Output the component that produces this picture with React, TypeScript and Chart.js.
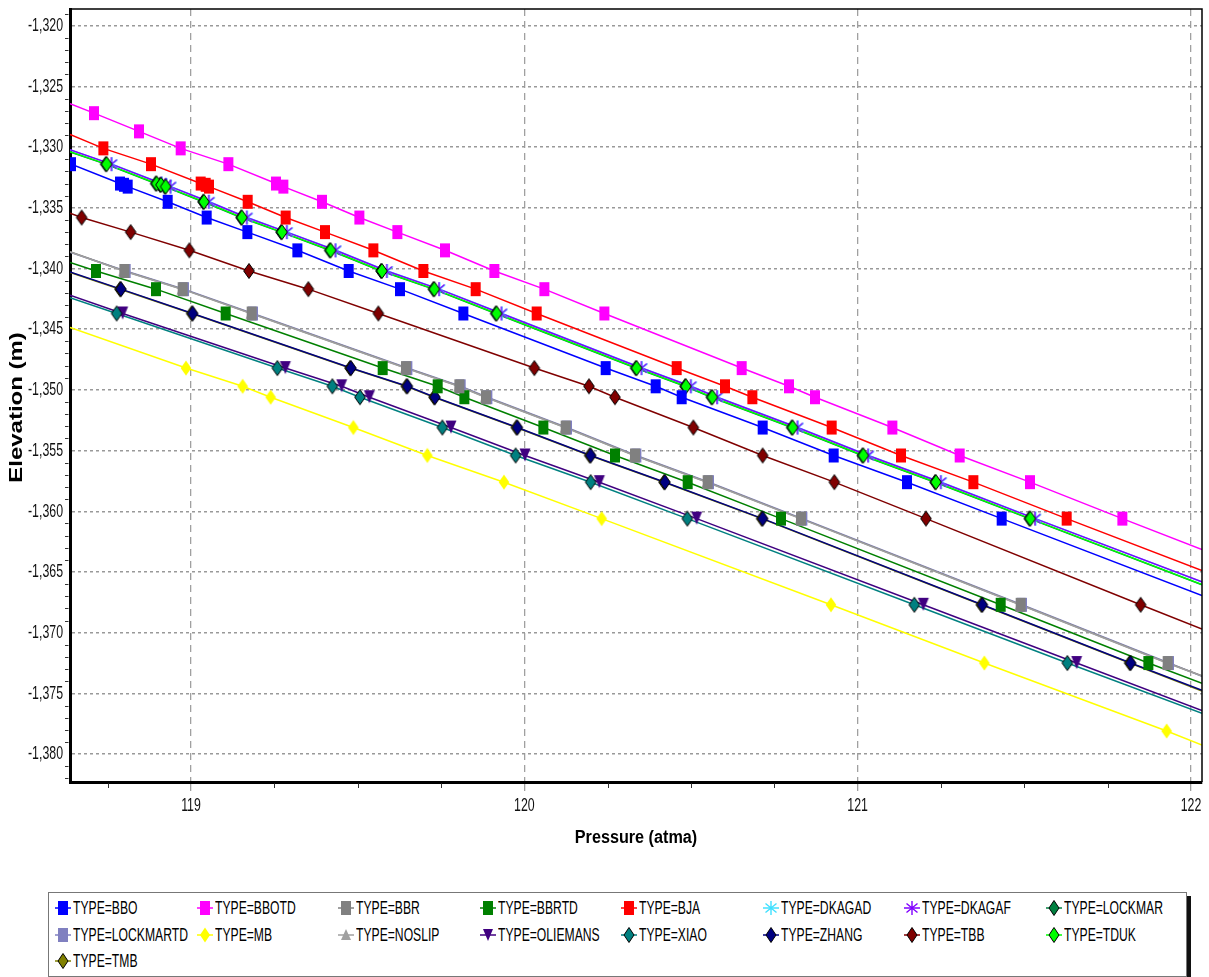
import React, { useEffect, useRef } from "react";
import { Chart, registerables } from "chart.js";
Chart.register(...registerables);

const _ = null;

// Elevation (m) of the measurement depths shared by all series
const DEPTHS = [-1327.2, -1328.7, -1330.1, -1331.4, -1333.0, -1333.1, -1333.25, -1334.5, -1335.8, -1337.0, -1338.5, -1340.2, -1341.7, -1343.7, -1348.2, -1349.7, -1350.6, -1353.1, -1355.4, -1357.6, -1360.6, -1367.7, -1372.5, -1378.1];

const SERIES = ["BBO", "BBOTD", "BBR", "BBRTD", "BJA", "DKAGAD", "DKAGAF", "LOCKMAR", "LOCKMARTD", "MB", "NOSLIP", "OLIEMANS", "XIAO", "ZHANG", "TBB", "TDUK", "TMB"];

// Pressure (atma) at each depth, per series (null = no marker)
const P_BBO = [_, _, _, 118.640, 118.787, 118.799, 118.810, 118.930, 119.047, 119.169, 119.319, 119.473, 119.627, 119.817, 120.244, 120.394, 120.472, 120.715, 120.928, 121.148, 121.432, _, _, _];
const P_BBOTD = [118.709, 118.844, 118.969, 119.112, 119.255, _, 119.277, 119.393, 119.505, 119.619, 119.762, 119.910, 120.060, 120.240, 120.652, 120.794, 120.872, 121.104, 121.306, 121.517, 121.794, _, _, _];
const P_BBR = [_, _, _, _, _, _, _, _, _, _, _, 118.800, 118.975, 119.182, 119.645, 119.805, 119.885, 120.124, 120.332, 120.550, 120.830, 121.489, 121.930, _];
const P_BBRTD = [_, _, _, _, _, _, _, _, _, _, _, 118.715, 118.895, 119.104, 119.575, 119.740, 119.820, 120.057, 120.272, 120.490, 120.770, 121.429, 121.872, _];
const P_BJA = [_, _, 118.737, 118.880, 119.029, 119.044, 119.054, 119.170, 119.284, 119.402, 119.547, 119.697, 119.854, 120.037, 120.457, 120.602, 120.684, 120.922, 121.130, 121.347, 121.627, _, _, _];
const P_DKAGAD = [_, _, _, 118.763, 118.913, 118.926, 118.940, 119.055, 119.169, 119.289, 119.435, 119.589, 119.746, 119.933, 120.353, 120.501, 120.580, 120.821, 121.033, 121.251, 121.534, _, _, _];
const P_DKAGAF = [_, _, _, 118.761, 118.911, 118.924, 118.938, 119.053, 119.167, 119.287, 119.433, 119.587, 119.744, 119.931, 120.351, 120.499, 120.578, 120.819, 121.031, 121.249, 121.532, _, _, _];
const P_LOCKMAR = [_, _, _, 118.744, 118.894, 118.907, 118.921, 119.036, 119.150, 119.270, 119.416, 119.570, 119.727, 119.914, 120.334, 120.482, 120.561, 120.802, 121.014, 121.232, 121.515, _, _, _];
const P_LOCKMARTD = [_, _, _, _, _, _, _, _, _, _, _, 118.804, 118.979, 119.186, 119.649, 119.809, 119.889, 120.128, 120.336, 120.554, 120.834, 121.493, 121.934, _];
const P_MB = [_, _, _, _, _, _, _, _, _, _, _, _, _, _, 118.985, 119.155, 119.239, 119.487, 119.709, 119.939, 120.232, 120.920, 121.380, 121.927];
const P_NOSLIP = [_, _, _, _, _, _, _, _, _, _, _, 118.798, 118.973, 119.180, 119.643, 119.803, 119.883, 120.122, 120.330, 120.548, 120.828, 121.487, 121.928, _];
const P_OLIEMANS = [_, _, _, _, _, _, _, _, _, _, _, _, _, 118.795, 119.283, 119.452, 119.535, 119.780, 120.002, 120.225, 120.517, 121.197, 121.657, _];
const P_XIAO = [_, _, _, _, _, _, _, _, _, _, _, _, _, 118.777, 119.259, 119.424, 119.507, 119.754, 119.974, 120.199, 120.489, 121.170, 121.629, _];
const P_ZHANG = [_, _, _, _, _, _, _, _, _, _, _, _, 118.790, 119.005, 119.480, 119.649, 119.732, 119.979, 120.199, 120.422, 120.715, 121.374, 121.819, _];
const P_TBB = [_, _, _, _, _, _, _, _, 118.672, 118.819, 118.995, 119.174, 119.352, 119.562, 120.030, 120.194, 120.272, 120.507, 120.715, 120.930, 121.205, 121.849, _, _];
const P_TDUK = [_, _, _, 118.747, 118.897, 118.910, 118.924, 119.039, 119.153, 119.273, 119.419, 119.573, 119.730, 119.917, 120.337, 120.485, 120.564, 120.805, 121.017, 121.235, 121.518, _, _, _];
const P_TMB = [_, _, _, _, _, _, _, _, _, _, _, _, 118.787, 119.002, 119.477, 119.646, 119.729, 119.976, 120.196, 120.419, 120.712, 121.371, 121.816, _];

const PRESSURES = [P_BBO, P_BBOTD, P_BBR, P_BBRTD, P_BJA, P_DKAGAD, P_DKAGAF, P_LOCKMAR, P_LOCKMARTD, P_MB, P_NOSLIP, P_OLIEMANS, P_XIAO, P_ZHANG, P_TBB, P_TDUK, P_TMB];

// Traverse curve elevation at the left (X_MIN) and right (X_MAX) edges of the plot
const CURVE_LEFT = [-1331.45, -1326.42, -1338.62, -1339.5, -1328.95, -1330.23, -1330.22, -1330.4, -1338.66, -1344.85, -1338.64, -1342.2, -1342.4, -1340.28, -1335.45, -1330.38, -1340.32];
const CURVE_RIGHT = [-1366.95, -1363.15, -1373.55, -1374.17, -1364.88, -1365.82, -1365.8, -1366.05, -1373.6, -1379.25, -1373.58, -1376.42, -1376.65, -1374.75, -1369.7, -1366.04, -1374.8];

const X_MIN = 118.637;
const X_MAX = 122.033;
const Y_MIN = -1382.3;
const Y_MAX = -1318.62;
const X_TICKS = [119, 120, 121, 122];
const Y_TICKS = [-1320, -1325, -1330, -1335, -1340, -1345, -1350, -1355, -1360, -1365, -1370, -1375, -1380];

const COLORS = ["#0000ff", "#ff00ff", "#808080", "#008000", "#ff0000", "#40e0ff", "#8000ff", "#008040", "#8080c0", "#ffff00", "#a0a0a0", "#400080", "#008080", "#000080", "#800000", "#00ff00", "#808000"];
const SHAPES = ["rect", "rect", "rect", "rect", "rect", "star", "star", "diamond", "rect", "diamondPlain", "triUp", "triDown", "diamond", "diamond", "diamond", "diamond", "diamond"];
const MARKER_Z = [1, 1, 1, 1, 1, 3, 2, 4, 2, 1, 3, 2, 1, 1, 1, 1, 2];
const LINE_Z = [1, 1, 3, 1, 1, 4, 1, 3, 4, 1, 2, 1, 2, 1, 1, 2, 2];

const FONT = "'Liberation Sans', Arial, sans-serif";

function makeMarker(shape: string, fill: string): HTMLCanvasElement {
  const c = document.createElement("canvas");
  const W = 16, H = 20;
  c.width = W;
  c.height = H;
  const g = c.getContext("2d") as CanvasRenderingContext2D;
  const cx = W / 2, cy = H / 2;
  g.fillStyle = fill;
  g.strokeStyle = "#000";
  g.lineWidth = 1;
  if (shape === "rect") {
    g.fillRect(cx - 5, cy - 7, 10, 14);
  } else if (shape === "diamond" || shape === "diamondPlain") {
    g.beginPath();
    g.moveTo(cx, cy - 7.5);
    g.lineTo(cx + 5.3, cy);
    g.lineTo(cx, cy + 7.5);
    g.lineTo(cx - 5.3, cy);
    g.closePath();
    g.fill();
    if (shape === "diamond") g.stroke();
  } else if (shape === "triUp") {
    g.beginPath();
    g.moveTo(cx, cy - 6.5);
    g.lineTo(cx + 5.5, cy + 5.5);
    g.lineTo(cx - 5.5, cy + 5.5);
    g.closePath();
    g.fill();
  } else if (shape === "triDown") {
    g.beginPath();
    g.moveTo(cx - 5.5, cy - 7);
    g.lineTo(cx + 5.5, cy - 7);
    g.lineTo(cx, cy + 6);
    g.closePath();
    g.fill();
  } else if (shape === "star") {
    g.strokeStyle = fill;
    g.lineWidth = 1.4;
    g.beginPath();
    g.moveTo(cx, cy - 7);
    g.lineTo(cx, cy + 7);
    g.moveTo(cx - 5.5, cy - 4.5);
    g.lineTo(cx + 5.5, cy + 4.5);
    g.moveTo(cx - 5.5, cy + 4.5);
    g.lineTo(cx + 5.5, cy - 4.5);
    g.stroke();
  }
  return c;
}

const decorPlugin = {
  id: "decor",
  afterDraw(chart: any) {
    const { ctx, chartArea: a, scales } = chart;
    const xs = scales.x, ys = scales.y;
    ctx.save();
    ctx.strokeStyle = "#000";
    ctx.lineWidth = 1.5;
    ctx.beginPath();
    ctx.moveTo(a.left, a.top);
    ctx.lineTo(a.right, a.top);
    ctx.lineTo(a.right, a.bottom);
    ctx.stroke();
    ctx.lineWidth = 1;
    ctx.strokeStyle = "#333";
    ctx.beginPath();
    for (let v = Math.ceil(Y_MIN); v <= Math.floor(Y_MAX); v++) {
      if (v % 5 === 0) continue;
      const y = Math.round(ys.getPixelForValue(v)) + 0.5;
      ctx.moveTo(a.left - 5, y);
      ctx.lineTo(a.left - 1.5, y);
    }
    for (let v = Math.ceil(X_MIN * 4) / 4; v <= X_MAX; v += 0.25) {
      if (Math.abs(v - Math.round(v)) < 1e-6) continue;
      const x = Math.round(xs.getPixelForValue(v)) + 0.5;
      ctx.moveTo(x, a.bottom + 1.5);
      ctx.lineTo(x, a.bottom + 6);
    }
    ctx.stroke();
    ctx.fillStyle = "#111";
    ctx.font = `19px ${FONT}`;
    ctx.textBaseline = "middle";
    for (const t of ys.ticks) {
      const y = ys.getPixelForValue(t.value);
      ctx.save();
      ctx.translate(a.left - 7, y);
      ctx.scale(0.65, 1);
      ctx.textAlign = "right";
      ctx.fillText(t.label, 0, 0);
      ctx.restore();
    }
    for (const t of xs.ticks) {
      const x = xs.getPixelForValue(t.value);
      ctx.save();
      ctx.translate(x, a.bottom + 24);
      ctx.scale(0.65, 1);
      ctx.textAlign = "center";
      ctx.fillText(t.label, 0, 0);
      ctx.restore();
    }
    ctx.font = `bold 18px ${FONT}`;
    ctx.fillStyle = "#000";
    ctx.save();
    ctx.translate((a.left + a.right) / 2, a.bottom + 56);
    ctx.scale(0.9, 1);
    ctx.textAlign = "center";
    ctx.fillText("Pressure (atma)", 0, 0);
    ctx.restore();
    ctx.save();
    ctx.translate(17, (a.top + a.bottom) / 2 + 12);
    ctx.rotate(-Math.PI / 2);
    ctx.scale(1.33, 1);
    ctx.textAlign = "center";
    ctx.fillText("Elevation (m)", 0, 0);
    ctx.restore();
    ctx.restore();
  },
};

function LegendIcon({ color, shape }: { color: string; shape: string }) {
  let mark: any = null;
  if (shape === "rect") mark = <rect x={3} y={1} width={10} height={14} fill={color} />;
  else if (shape === "diamond") mark = <polygon points="8,0.5 13,8 8,15.5 3,8" fill={color} stroke="#000" strokeWidth={1} />;
  else if (shape === "diamondPlain") mark = <polygon points="8,0.5 13,8 8,15.5 3,8" fill={color} />;
  else if (shape === "triUp") mark = <polygon points="8,2 13,13 3,13" fill={color} />;
  else if (shape === "triDown") mark = <polygon points="3,2 13,2 8,14" fill={color} />;
  else if (shape === "star")
    mark = <path d="M8 1 L8 15 M2.5 3.5 L13.5 12.5 M2.5 12.5 L13.5 3.5" stroke={color} strokeWidth={1.4} fill="none" />;
  return (
    <svg width={16} height={16} style={{ position: "absolute", left: 0, top: -8 }}>
      <line x1={0} y1={8} x2={16} y2={8} stroke={color} strokeWidth={1.5} />
      {mark}
    </svg>
  );
}

export default function App() {
  const ref = useRef<HTMLCanvasElement | null>(null);
  useEffect(() => {
    if (!ref.current) return;
    const datasets: any[] = [];
    SERIES.forEach((name, i) => {
      const pts: any[] = [];
      PRESSURES[i].forEach((p, k) => {
        if (p !== null) pts.push({ x: p, y: DEPTHS[k] });
      });
      pts.sort((a, b) => a.x - b.x);
      datasets.push({
        label: name + " curve",
        data: [{ x: X_MIN, y: CURVE_LEFT[i] }, ...pts, { x: X_MAX, y: CURVE_RIGHT[i] }],
        showLine: true,
        borderColor: COLORS[i],
        borderWidth: 1.5,
        pointRadius: 0,
        tension: 0,
        order: 100 + LINE_Z[i],
      });
      datasets.push({
        label: "TYPE=" + name,
        data: pts,
        showLine: false,
        pointStyle: makeMarker(SHAPES[i], COLORS[i]),
        pointRadius: 6,
        backgroundColor: COLORS[i],
        borderColor: COLORS[i],
        order: MARKER_Z[i],
      });
    });
    const chart = new Chart(ref.current, {
      type: "scatter",
      data: { datasets },
      plugins: [decorPlugin],
      options: {
        animation: false,
        responsive: true,
        maintainAspectRatio: false,
        locale: "en-US",
        layout: { padding: { top: 9, right: 7, left: 0, bottom: 0 } },
        plugins: { legend: { display: false }, tooltip: { enabled: false } },
        scales: {
          x: {
            type: "linear",
            min: X_MIN,
            max: X_MAX,
            afterBuildTicks: (s: any) => {
              s.ticks = X_TICKS.map((v) => ({ value: v }));
            },
            afterFit: (s: any) => {
              s.height = 98;
            },
            ticks: { display: false },
            grid: {
              color: "#a0a0a0",
              lineWidth: 1.3,
              drawTicks: true,
              tickLength: 11,
              tickColor: "#a0a0a0",
              tickWidth: 1.3,
              tickBorderDash: [7, 5],
            },
            border: { display: true, color: "#000", width: 3, dash: [7, 5] },
          },
          y: {
            type: "linear",
            min: Y_MIN,
            max: Y_MAX,
            afterBuildTicks: (s: any) => {
              s.ticks = Y_TICKS.map((v) => ({ value: v }));
            },
            afterFit: (s: any) => {
              s.width = 70;
            },
            ticks: { display: false },
            grid: { color: "#999999", lineWidth: 1.5, drawTicks: false },
            border: { display: true, color: "#000", width: 3, dash: [3, 3] },
          },
        },
      } as any,
    });
    return () => chart.destroy();
  }, []);

  return (
    <div style={{ position: "absolute", left: 0, top: 0, width: 1209, height: 977, background: "#fff", overflow: "hidden" }}>
      <div style={{ position: "absolute", left: 0, top: 0, width: 1209, height: 880 }}>
        <canvas ref={ref} />
      </div>
      <div
        style={{
          position: "absolute",
          left: 48,
          top: 892,
          width: 1137,
          height: 83,
          border: "1px solid #777",
          boxShadow: "4px 4px 0 #111",
          background: "#fff",
          fontFamily: FONT,
        }}
      >
        {SERIES.map((name, i) => {
          const col = i % 8;
          const row = Math.floor(i / 8);
          const left = 6 + col * 141.5;
          const top = 15 + row * 26.5;
          return (
            <div key={name} style={{ position: "absolute", left, top, height: 0 }}>
              <LegendIcon color={COLORS[i]} shape={SHAPES[i]} />
              <span
                style={{
                  position: "absolute",
                  left: 18,
                  top: -11,
                  fontSize: 19,
                  lineHeight: "22px",
                  whiteSpace: "nowrap",
                  transform: "scaleX(0.64)",
                  transformOrigin: "left center",
                  color: "#000",
                }}
              >
                {"TYPE=" + name}
              </span>
            </div>
          );
        })}
      </div>
    </div>
  );
}
